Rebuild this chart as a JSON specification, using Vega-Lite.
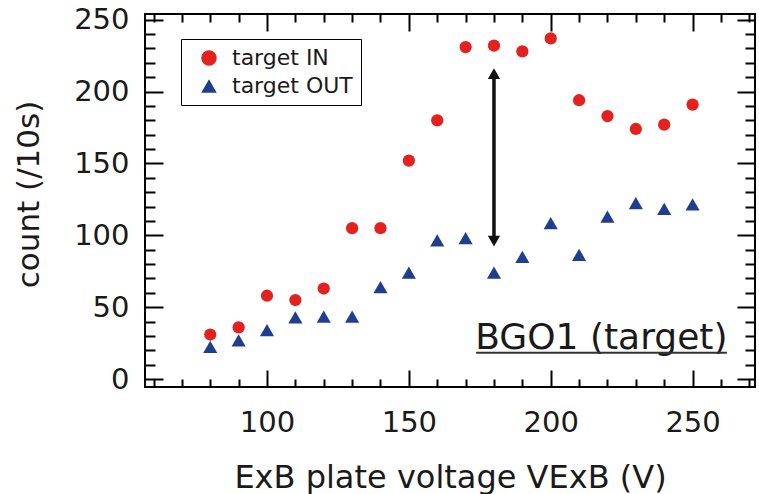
{
  "$schema": "https://vega.github.io/schema/vega-lite/v6.json",
  "width": 610,
  "height": 373,
  "autosize": "none",
  "padding": {"left": 145, "top": 14, "right": 4, "bottom": 107},
  "background": "white",
  "config": {
    "font": "DejaVu Sans",
    "view": {"stroke": "black", "strokeWidth": 2},
    "axis": {
      "domain": false,
      "tickColor": "black", "tickWidth": 2,
      "labelFont": "DejaVu Sans", "labelFontSize": 29, "labelColor": "#1a1a1a",
      "titleFont": "DejaVu Sans", "titleFontWeight": "normal", "titleColor": "#1a1a1a",
      "grid": false, "labelOverlap": false, "labelFlush": false
    }
  },
  "datasets": {
    "pts": [
      {"V": 80, "count": 31, "series": "target IN"},
      {"V": 90, "count": 36, "series": "target IN"},
      {"V": 100, "count": 58, "series": "target IN"},
      {"V": 110, "count": 55, "series": "target IN"},
      {"V": 120, "count": 63, "series": "target IN"},
      {"V": 130, "count": 105, "series": "target IN"},
      {"V": 140, "count": 105, "series": "target IN"},
      {"V": 150, "count": 152, "series": "target IN"},
      {"V": 160, "count": 180, "series": "target IN"},
      {"V": 170, "count": 231, "series": "target IN"},
      {"V": 180, "count": 232, "series": "target IN"},
      {"V": 190, "count": 228, "series": "target IN"},
      {"V": 200, "count": 237, "series": "target IN"},
      {"V": 210, "count": 194, "series": "target IN"},
      {"V": 220, "count": 183, "series": "target IN"},
      {"V": 230, "count": 174, "series": "target IN"},
      {"V": 240, "count": 177, "series": "target IN"},
      {"V": 250, "count": 191, "series": "target IN"},
      {"V": 80, "count": 22.5, "series": "target OUT"},
      {"V": 90, "count": 27, "series": "target OUT"},
      {"V": 100, "count": 34, "series": "target OUT"},
      {"V": 110, "count": 43, "series": "target OUT"},
      {"V": 120, "count": 43.5, "series": "target OUT"},
      {"V": 130, "count": 43.5, "series": "target OUT"},
      {"V": 140, "count": 64, "series": "target OUT"},
      {"V": 150, "count": 74, "series": "target OUT"},
      {"V": 160, "count": 96.5, "series": "target OUT"},
      {"V": 170, "count": 98, "series": "target OUT"},
      {"V": 180, "count": 74, "series": "target OUT"},
      {"V": 190, "count": 85, "series": "target OUT"},
      {"V": 200, "count": 108.5, "series": "target OUT"},
      {"V": 210, "count": 86.5, "series": "target OUT"},
      {"V": 220, "count": 113, "series": "target OUT"},
      {"V": 230, "count": 122.5, "series": "target OUT"},
      {"V": 240, "count": 118.5, "series": "target OUT"},
      {"V": 250, "count": 121.5, "series": "target OUT"}
    ],
    "arrow": [{"V": 180, "lo": 96, "hi": 212.5}],
    "headUp": [{"V": 180, "count": 212.5}],
    "headDown": [{"V": 180, "count": 96}],
    "label": [{"V": 262.3, "count": 20.7, "text": "BGO1 (target)"}],
    "underline": [{"V": 173.7, "V2": 262.1, "count": 18.4}]
  },
  "resolve": {"axis": {"x": "independent", "y": "independent"}},
  "layer": [
    {
      "data": {"name": "pts"},
      "mark": {"type": "point", "filled": true, "opacity": 1},
      "encoding": {
        "x": {
          "field": "V", "type": "quantitative",
          "scale": {"domain": [57, 272], "nice": false, "zero": false},
          "axis": {
            "orient": "bottom",
            "offset": -17,
            "values": [60,70,80,90,100,110,120,130,140,150,160,170,180,190,200,210,220,230,240,250,260,270],
            "labelExpr": "datum.value % 50 === 0 ? datum.label : ''",
            "tickSize": 17,
            "tickDash": {"condition": {"test": "datum.value % 50 === 0", "value": []}, "value": [0, 9, 8, 0]},
            "labelPadding": 21,
            "title": "ExB plate voltage VExB (V)",
            "titleFontSize": 32,
            "titleY": 117, "titleBaseline": "alphabetic"
          }
        },
        "y": {
          "field": "count", "type": "quantitative",
          "scale": {"domain": [-5.5, 254], "nice": false, "zero": false},
          "axis": {
            "orient": "left",
            "offset": -18,
            "values": [0,10,20,30,40,50,60,70,80,90,100,110,120,130,140,150,160,170,180,190,200,210,220,230,240,250],
            "labelExpr": "datum.value % 50 === 0 ? datum.label : ''",
            "tickSize": 18,
            "tickDash": {"condition": {"test": "datum.value % 50 === 0", "value": []}, "value": [0, 8, 10, 0]},
            "labelPadding": 16,
            "title": "count (/10s)",
            "titleFontSize": 31,
            "titleX": -125, "titleY": 180, "titleBaseline": "alphabetic"
          }
        },
        "color": {
          "field": "series", "type": "nominal",
          "scale": {"domain": ["target IN", "target OUT"], "range": ["#e3211e", "#1f3e8e"]},
          "legend": {
            "title": null, "orient": "none", "legendX": 36, "legendY": 25,
            "strokeColor": "black", "fillColor": "white",
            "padding": 8, "labelFontSize": 22, "labelFont": "DejaVu Sans", "labelColor": "#1a1a1a",
            "symbolSize": 240, "symbolOffset": 9, "labelOffset": 12, "rowPadding": 6,
            "symbolStrokeWidth": 0
          }
        },
        "shape": {
          "field": "series", "type": "nominal",
          "scale": {"domain": ["target IN", "target OUT"], "range": ["circle", "triangle-up"]},
          "legend": null
        },
        "size": {"condition": {"test": "datum.series === 'target OUT'", "value": 200}, "value": 150}
      }
    },
    {
      "data": {"name": "arrow"},
      "mark": {"type": "rule", "color": "#111111", "strokeWidth": 3.5},
      "encoding": {
        "x": {
          "field": "V", "type": "quantitative",
          "scale": {"domain": [57, 272], "nice": false, "zero": false},
          "axis": {
            "orient": "top",
            "offset": -17,
            "values": [60,70,80,90,100,110,120,130,140,150,160,170,180,190,200,210,220,230,240,250,260,270],
            "labels": false, "title": null,
            "tickSize": 17,
            "tickDash": {"condition": {"test": "datum.value % 50 === 0", "value": []}, "value": [0, 9, 8, 0]}
          }
        },
        "y": {
          "field": "lo", "type": "quantitative",
          "scale": {"domain": [-5.5, 254], "nice": false, "zero": false},
          "axis": {
            "orient": "right",
            "offset": -18,
            "values": [0,10,20,30,40,50,60,70,80,90,100,110,120,130,140,150,160,170,180,190,200,210,220,230,240,250],
            "labels": false, "title": null,
            "tickSize": 18,
            "tickDash": {"condition": {"test": "datum.value % 50 === 0", "value": []}, "value": [0, 8, 10, 0]}
          }
        },
        "y2": {"field": "hi"}
      }
    },
    {
      "data": {"name": "headUp"},
      "mark": {"type": "point", "shape": "triangle-up", "filled": true, "color": "#111111", "opacity": 1, "size": 150},
      "encoding": {
        "x": {"field": "V", "type": "quantitative", "axis": null},
        "y": {"field": "count", "type": "quantitative", "axis": null}
      }
    },
    {
      "data": {"name": "headDown"},
      "mark": {"type": "point", "shape": "triangle-down", "filled": true, "color": "#111111", "opacity": 1, "size": 150},
      "encoding": {
        "x": {"field": "V", "type": "quantitative", "axis": null},
        "y": {"field": "count", "type": "quantitative", "axis": null}
      }
    },
    {
      "data": {"name": "label"},
      "mark": {"type": "text", "align": "right", "baseline": "alphabetic", "fontSize": 36, "font": "DejaVu Sans", "color": "#1a1a1a"},
      "encoding": {
        "x": {"field": "V", "type": "quantitative", "axis": null},
        "y": {"field": "count", "type": "quantitative", "axis": null},
        "text": {"field": "text"}
      }
    },
    {
      "data": {"name": "underline"},
      "mark": {"type": "rule", "color": "#333333", "strokeWidth": 2},
      "encoding": {
        "x": {"field": "V", "type": "quantitative", "axis": null},
        "x2": {"field": "V2"},
        "y": {"field": "count", "type": "quantitative", "axis": null}
      }
    }
  ]
}
